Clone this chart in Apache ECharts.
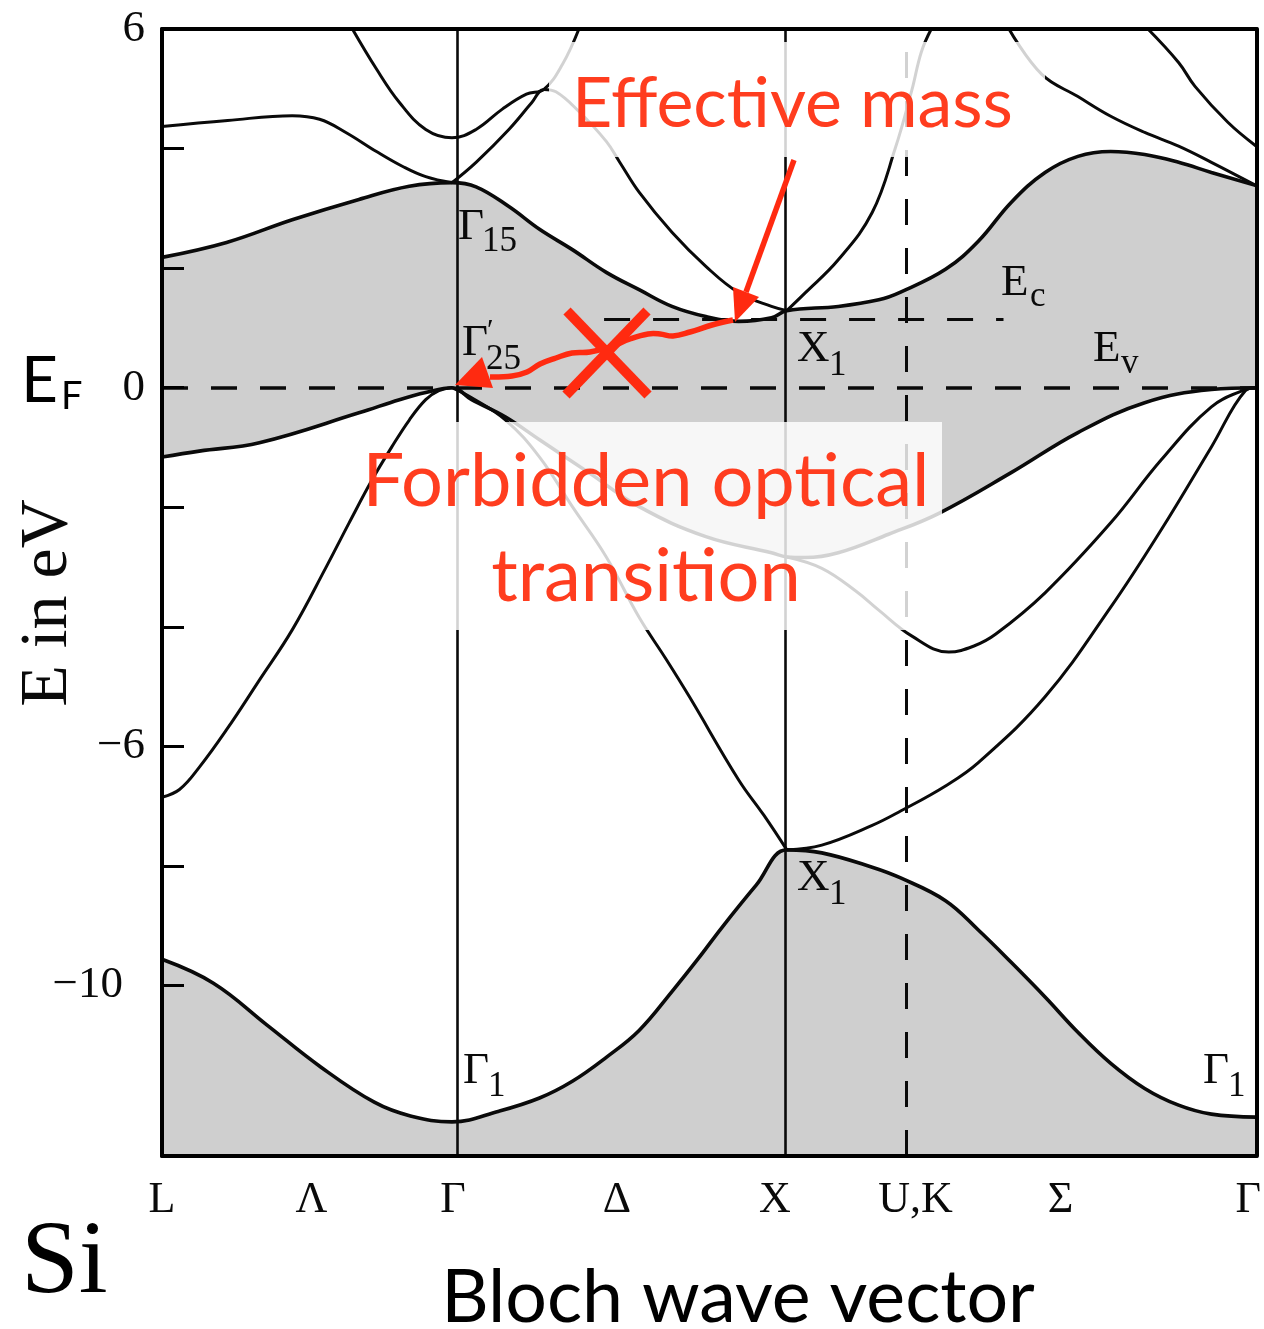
<!DOCTYPE html>
<html>
<head>
<meta charset="utf-8">
<script src="https://cdn.jsdelivr.net/npm/echarts@6/dist/echarts.min.js"></script>
<style>
html, body { margin: 0; padding: 0; background: #fff; }
#main { width: 1264px; height: 1329px; }
</style>
</head>
<body>
<div id="main"></div>
<script>
var myChart = echarts.init(document.getElementById('main'));

// k along the path L-Γ-X-U,K-Γ, normalised to 0..1
var kGamma = 0.265, kX = 0.571, kUK = 0.675;
var kLabelPos = [0, 0.1365, 0.266, 0.4158, 0.560, 0.6887, 0.8211, 0.9927];
var kLabelText = ['L', 'Λ', 'Γ', 'Δ', 'X', 'U,K', 'Σ', 'Γ'];

// energy axis (eV)
var eMin = -12.85, eMax = 6;
var yLabelVals = [6, 0, -6, -10];
var yTickVals = [4, 2, 0, -2, -4, -6, -8, -10];
var eCond = 1.14;

// bands, [k, E]
var band1 = [[0,-9.56],[0.047,-9.96],[0.096,-10.66],[0.145,-11.36],[0.194,-11.95],[0.227,-12.18],[0.265,-12.28],
  [0.308,-12.1],[0.345,-11.88],[0.375,-11.6],[0.406,-11.2],[0.436,-10.75],[0.466,-10.1],[0.490,-9.55],
  [0.512,-9.02],[0.543,-8.32],[0.571,-7.73],[0.603,-7.78],[0.649,-8.02],[0.675,-8.2],[0.716,-8.58],
  [0.746,-9.07],[0.776,-9.61],[0.807,-10.19],[0.837,-10.78],[0.867,-11.30],[0.898,-11.72],[0.929,-12.0],
  [0.959,-12.15],[1,-12.2]];
var v2Lambda = [[0,-6.85],[0.016,-6.72],[0.034,-6.35],[0.059,-5.72],[0.089,-4.89],[0.119,-4.05],[0.150,-3.0],
  [0.171,-2.26],[0.192,-1.54],[0.210,-0.99],[0.226,-0.54],[0.241,-0.20],[0.253,-0.05],[0.265,0]];
var v2Delta = [[0.265,0],[0.283,-0.17],[0.314,-0.54],[0.345,-1.16],[0.375,-1.99],[0.406,-2.83],[0.436,-3.84],
  [0.461,-4.55],[0.482,-5.17],[0.527,-6.56],[0.550,-7.15],[0.571,-7.73]];
var v3Sigma = [[0.571,-7.73],[0.603,-7.65],[0.649,-7.32],[0.675,-7.08],[0.716,-6.66],[0.746,-6.27],
  [0.807,-5.17],[0.867,-3.67],[0.913,-2.38],[0.959,-0.99],[0.990,-0.05],[1,0]];
var v2Sigma = [[0.571,-2.83],[0.603,-3.02],[0.634,-3.4],[0.655,-3.72],[0.685,-4.15],[0.719,-4.42],[0.742,-4.32],
  [0.762,-4.12],[0.807,-3.43],[0.867,-2.26],[0.913,-1.21],[0.959,-0.32],[0.990,-0.03],[1,0]];
var vbTop = [[0,-1.16],[0.034,-1.06],[0.089,-0.92],[0.180,-0.42],[0.217,-0.20],[0.241,-0.08],[0.265,0],
  [0.283,-0.20],[0.314,-0.49],[0.345,-0.87],[0.390,-1.42],[0.436,-1.99],[0.497,-2.49],[0.557,-2.76],[0.571,-2.83],
  [0.588,-2.84],[0.618,-2.76],[0.664,-2.45],[0.710,-2.1],[0.776,-1.42],[0.837,-0.75],[0.898,-0.25],
  [0.959,-0.03],[1,0]];
var cbBottom = [[0,2.18],[0.059,2.43],[0.119,2.81],[0.180,3.15],[0.226,3.37],[0.265,3.43],[0.287,3.36],
  [0.317,3.03],[0.345,2.65],[0.375,2.31],[0.406,1.93],[0.436,1.64],[0.466,1.36],[0.497,1.19],[0.527,1.11],
  [0.557,1.17],[0.571,1.29],[0.618,1.36],[0.655,1.47],[0.675,1.6],[0.716,1.98],[0.746,2.45],[0.776,3.10],
  [0.807,3.60],[0.837,3.87],[0.867,3.95],[0.898,3.90],[0.929,3.77],[0.959,3.60],[1,3.38]];
var cbL3 = [[0,4.37],[0.060,4.47],[0.119,4.55],[0.144,4.49],[0.168,4.27],[0.196,3.95],[0.220,3.70],[0.241,3.53],[0.265,3.43]];
var cbUpperA = [[0.174,6.0],[0.196,5.33],[0.217,4.77],[0.241,4.32],[0.265,4.18],[0.287,4.32],[0.311,4.66],
  [0.333,4.91],[0.349,4.99],[0.366,5.41],[0.381,6.0]];
var cbUpperB = [[0.265,3.43],[0.287,3.77],[0.317,4.32],[0.338,4.77],[0.349,4.99],[0.360,4.95],[0.381,4.62],
  [0.406,4.12],[0.418,3.78],[0.436,3.27],[0.466,2.60],[0.497,2.03],[0.527,1.59],[0.557,1.36],[0.571,1.29]];
var cbXU = [[0.571,1.29],[0.588,1.59],[0.618,2.14],[0.649,2.93],[0.670,4.0],[0.685,4.96],[0.694,5.62],[0.703,6.0]];
var cbSigmaA = [[0.774,6.0],[0.804,5.24],[0.837,4.87],[0.867,4.54],[0.898,4.27],[0.929,4.04],[0.959,3.77],[1,3.38]];
var cbSigmaB = [[0.901,6.0],[0.929,5.44],[0.944,5.04],[0.974,4.44],[1,4.04]];

var GRAY = '#cfcfcf', INK = '#0a0a0a', RED = '#ff2a10';
var serif = '"Liberation Serif", "DejaVu Serif", serif';
var sans = 'Lato, "Open Sans", sans-serif';

function band(data, width, z, area) {
    var s = {
        type: 'line', data: data, symbol: 'none', smooth: 0.4, silent: true, z: z,
        lineStyle: { color: INK, width: width }
    };
    if (area) s.areaStyle = { color: area, origin: 'start', opacity: 1 };
    return s;
}

var dash = [26, 23];
var guideLines = {
    symbol: ['none', 'none'], silent: true, label: { show: false }, animation: false,
    data: [
        { xAxis: kGamma, lineStyle: { color: INK, width: 2.6, type: 'solid' } },
        { xAxis: kX, lineStyle: { color: INK, width: 2.6, type: 'solid' } },
        { xAxis: kUK, lineStyle: { color: INK, width: 3, type: dash } },
        { yAxis: 0, lineStyle: { color: INK, width: 3.5, type: dash } },
        [{ coord: [0.404, eCond], lineStyle: { color: INK, width: 3, type: dash } }, { coord: [0.769, eCond] }]
    ]
};

var series = [
    band(cbBottom, 3.6, 1, GRAY),
    band(vbTop, 3.6, 2, '#ffffff'),
    band(band1, 3.6, 3, GRAY),
    band(v2Lambda, 3, 4),
    band(v2Delta, 3, 4),
    band(v3Sigma, 3, 4),
    band(v2Sigma, 3, 4),
    band(cbL3, 3, 4),
    band(cbUpperA, 3, 4),
    band(cbUpperB, 3, 4),
    band(cbXU, 3, 4),
    band(cbSigmaA, 3, 4),
    band(cbSigmaB, 3, 4)
];
series.push({ type: 'line', data: [], z: 5, silent: true, markLine: guideLines });

function txt(x, y, s, size, family, color, align) {
    return {
        type: 'text', x: x, y: y, z: 60, silent: true,
        style: {
            text: s, font: size + 'px ' + family, fill: color || INK,
            align: align || 'left', textAlign: align || 'left',
            verticalAlign: 'middle', textVerticalAlign: 'middle'
        }
    };
}

var graphics = [
    // fading boxes behind the annotations
    { type: 'rect', z: 50, silent: true, shape: { x: 549, y: 42, width: 496, height: 115 }, style: { fill: 'rgba(255,255,255,0.82)' } },
    { type: 'rect', z: 50, silent: true, shape: { x: 450, y: 422, width: 492, height: 208 }, style: { fill: 'rgba(255,255,255,0.82)' } },

    // point labels
    txt(458, 227, 'Γ', 45, serif), txt(482, 242, '15', 35, serif),
    txt(462, 343, 'Γ', 45, serif), txt(487, 331, '′', 30, serif), txt(486, 360, '25', 35, serif),
    txt(797, 349, 'X', 45, serif), txt(829, 366, '1', 35, serif),
    txt(1001, 283, 'E', 45, serif), txt(1030, 297, 'c', 35, serif),
    txt(1093, 349, 'E', 45, serif), txt(1121, 364, 'v', 35, serif),
    txt(463, 1071, 'Γ', 45, serif), txt(488, 1087, '1', 35, serif),
    txt(1203, 1071, 'Γ', 45, serif), txt(1228, 1087, '1', 35, serif),
    txt(797, 878, 'X', 45, serif), txt(829, 895, '1', 35, serif),

    // outer titles
    txt(21, 381, 'E', 64, sans, '#000'), txt(61, 397, 'F', 38, sans, '#000'),
    txt(21, 1265, 'Si', 104, serif, '#000'),
    txt(738, 1298, 'Bloch wave vector', 73.5, sans, '#000', 'center'),
    {
        type: 'text', x: 48, y: 603, rotation: Math.PI / 2, z: 60, silent: true,
        style: { text: 'E in eV', font: '68px ' + serif, fill: INK, align: 'center', textAlign: 'center', verticalAlign: 'middle', textVerticalAlign: 'middle' }
    },

    // red annotations
    txt(572, 104, 'Effective mass', 70, sans, '#ff3d1f'),
    txt(646, 482, 'Forbidden optical', 74, sans, '#ff3d1f', 'center'),
    txt(646, 577, 'transition', 74, sans, '#ff3d1f', 'center'),
    { type: 'line', z: 70, silent: true, shape: { x1: 794, y1: 160, x2: 746, y2: 292 }, style: { stroke: RED, lineWidth: 5.5 } },
    { type: 'polygon', z: 70, silent: true, shape: { points: [[735, 322], [733, 287], [759, 297]] }, style: { fill: RED } },
    {
        type: 'polyline', z: 70, silent: true,
        shape: { smooth: 0.4, points: [[733, 320], [712, 325], [690, 332], [673, 336], [660, 334], [648, 334], [630, 339],
            [610, 347], [590, 352], [572, 353], [556, 358], [540, 364], [527, 372], [512, 376], [490, 377]] },
        style: { stroke: RED, lineWidth: 5.5, fill: null }
    },
    { type: 'polygon', z: 70, silent: true, shape: { points: [[455, 385], [482, 357], [493, 388]] }, style: { fill: RED } },
    { type: 'line', z: 70, silent: true, shape: { x1: 567, y1: 311, x2: 648, y2: 395 }, style: { stroke: RED, lineWidth: 10 } },
    { type: 'line', z: 70, silent: true, shape: { x1: 647, y1: 311, x2: 566, y2: 395 }, style: { stroke: RED, lineWidth: 10 } }
];

// the −10 label sits further left than the others in the original
function yFmt(v) {
    var s = v < 0 ? '\u2212' + Math.abs(v) : String(v);
    return v === -10 ? '{w|' + s + '}' : '{n|' + s + '}';
}
function kFmt(v) {
    for (var i = 0; i < kLabelPos.length; i++) if (Math.abs(kLabelPos[i] - v) < 1e-9) return kLabelText[i];
    return '';
}

var frame = { show: true, onZero: false, lineStyle: { color: '#000', width: 4 } };

var option = {
    animation: false,
    backgroundColor: '#fff',
    grid: { left: 162, top: 29, width: 1096, height: 1127, show: false },
    xAxis: [{
        type: 'value', min: 0, max: 1, position: 'bottom', z: 10,
        axisLine: frame, axisTick: { show: false }, splitLine: { show: false },
        axisLabel: { customValues: kLabelPos, formatter: kFmt, fontFamily: serif, fontSize: 44, color: INK, margin: 22 }
    }, {
        type: 'value', min: 0, max: 1, position: 'top', z: 10,
        axisLine: frame, axisTick: { show: false }, axisLabel: { show: false }, splitLine: { show: false }
    }],
    yAxis: [{
        type: 'value', min: eMin, max: eMax, position: 'left', z: 10,
        axisLine: frame, splitLine: { show: false },
        axisTick: { show: true, inside: true, length: 22, customValues: yTickVals, lineStyle: { color: '#000', width: 3 } },
        axisLabel: {
            customValues: yLabelVals, formatter: yFmt, margin: 17,
            rich: {
                n: { fontFamily: serif, fontSize: 45, color: INK },
                w: { fontFamily: serif, fontSize: 45, color: INK, padding: [0, 22, 0, 0] }
            }
        }
    }, {
        type: 'value', min: eMin, max: eMax, position: 'right', z: 10,
        axisLine: frame, axisTick: { show: false }, axisLabel: { show: false }, splitLine: { show: false }
    }],
    series: series,
    graphic: { elements: graphics }
};

myChart.setOption(option);
window.onresize = myChart.resize;
</script>
</body>
</html>
